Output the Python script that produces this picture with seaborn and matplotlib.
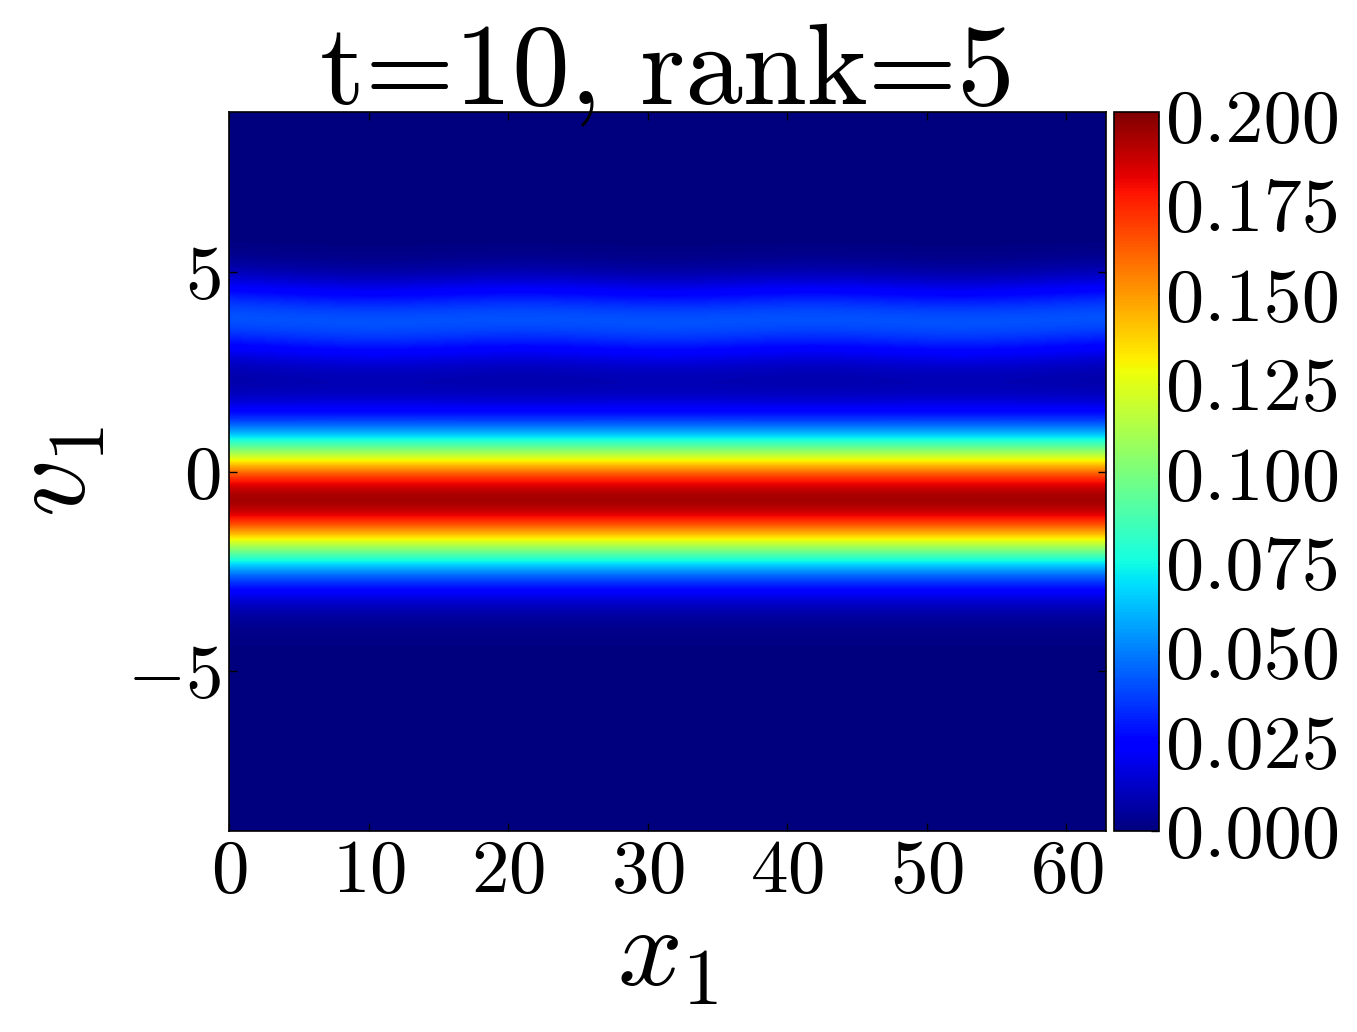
import numpy as np
import seaborn as sns
import matplotlib
matplotlib.use("Agg")
import matplotlib.pyplot as plt

# velocity rows of the phase space grid (v1) and x positions of the sampled columns
v_rows = np.linspace(-9.2, 9.3, 38)
x_cols = [0.0, 10.47, 20.94, 31.42, 41.89, 52.36, 62.83]

# f(x1, v1), per v row (bottom -> top)
# rows -9.2 ... 1.3 (main beam + lower tail), same for all columns
main_beam = [0.0, 0.0, 0.0, 0.0, 0.0, 0.0, 0.0, 0.0, 0.0, 0.0,
             0.001, 0.004, 0.014, 0.037, 0.076, 0.129, 0.180, 0.201,
             0.180, 0.129, 0.074, 0.034]
# rows 1.8 ... 5.8 (bump), two shapes: bump higher / bump lower
bump_up = [0.012, 0.006, 0.011, 0.029, 0.045, 0.037, 0.016, 0.004, 0.000]
bump_down = [0.013, 0.008, 0.019, 0.039, 0.045, 0.027, 0.008, 0.001, 0.000]
# rows 6.3 ... 9.3
top_rows = [0.0, 0.0, 0.0, 0.0, 0.0, 0.0, 0.0]
col_shape = ["up", "down", "up", "down", "up", "down", "up"]

cbar_ticks = [0.0, 0.025, 0.05, 0.075, 0.1, 0.125, 0.15, 0.175, 0.2]

sns.set_style("ticks")
plt.rcParams["font.family"] = "serif"
plt.rcParams["font.serif"] = ["cmr10"]
plt.rcParams["mathtext.fontset"] = "cm"
plt.rcParams["axes.formatter.use_mathtext"] = True
plt.rcParams["xtick.direction"] = "in"
plt.rcParams["ytick.direction"] = "in"
# plain black text and frame like the old matplotlib look
for k in ["text.color", "axes.labelcolor", "xtick.color", "ytick.color", "axes.edgecolor"]:
    plt.rcParams[k] = "black"

cols = []
for s in col_shape:
    bump = bump_up if s == "up" else bump_down
    cols.append(main_beam + bump + top_rows)
f = np.array(cols).T

fig = plt.figure(figsize=(13.57, 10.32), dpi=100)
ax = fig.add_axes([229 / 1357, 1 - 831 / 1032, 877 / 1357, 719 / 1032])
cax = fig.add_axes([1114 / 1357, 1 - 831 / 1032, 45 / 1357, 719 / 1032])

dx = x_cols[1] - x_cols[0]
dv = v_rows[1] - v_rows[0]
im = ax.imshow(f, origin="lower", cmap="jet", aspect="auto",
               interpolation="bicubic", vmin=0, vmax=f.max(),
               extent=[x_cols[0] - dx / 2, x_cols[-1] + dx / 2,
                       v_rows[0] - dv / 2, v_rows[-1] + dv / 2])
ax.set_xlim(0, 2 * np.pi * 10)
ax.set_ylim(-9, 9)
ax.set_xticks([0, 10, 20, 30, 40, 50, 60])
ax.set_yticks([-5, 0, 5])
ax.tick_params(top=True, right=True, length=6, width=1, labelsize=54, pad=6)
for sp in ax.spines.values():
    sp.set_linewidth(1.2)

ax.set_xlabel(r"$x_1$", fontsize=82, labelpad=0)
ax.set_ylabel(r"$v_1$", fontsize=82, labelpad=14)
ax.set_title("t=10, rank=5", fontsize=83, pad=6)

cb = fig.colorbar(im, cax=cax, ticks=cbar_ticks, format="%.3f")
cb.ax.tick_params(direction="in", length=6, width=1, labelsize=55, pad=5)
cb.outline.set_linewidth(1.2)

fig.savefig("out.png", dpi=100)
